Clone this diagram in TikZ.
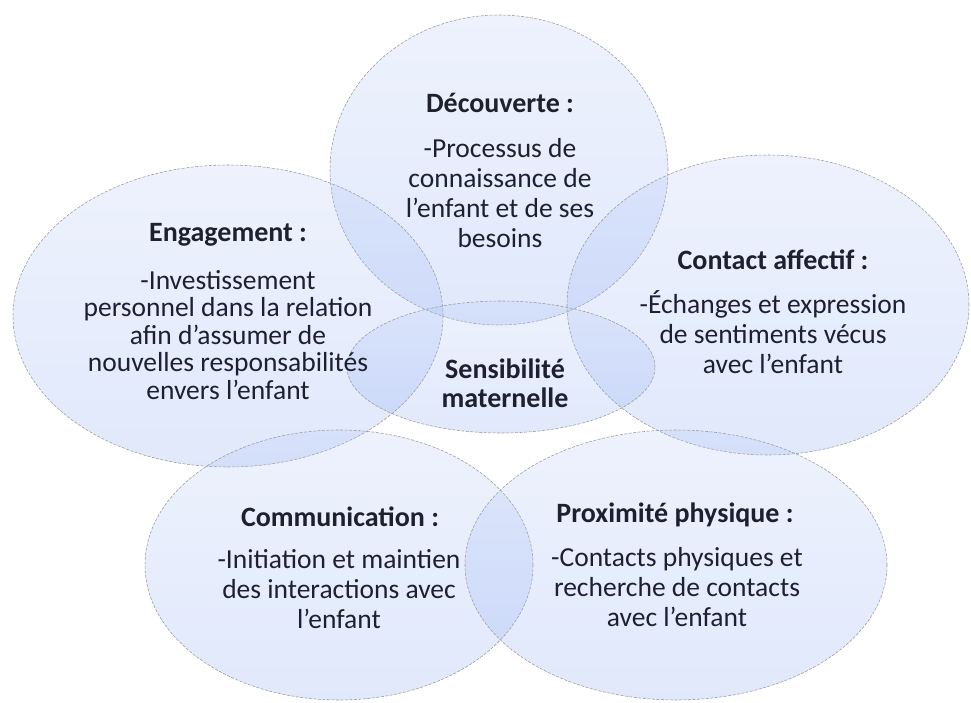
\documentclass[tikz,border=0pt]{standalone}
\usepackage{fontspec}
\setmainfont{Carlito}
\usetikzlibrary{shapes.geometric}
\definecolor{bubtop}{RGB}{175,195,245}
\definecolor{bubbot}{RGB}{115,152,238}
\definecolor{ink}{RGB}{30,32,45}
\begin{document}
\begin{tikzpicture}[x=1pt,y=-1pt,
  bubble/.style={ellipse, inner sep=0pt, draw=black!40, line width=0.55pt,
    dash pattern=on 3pt off 1.5pt, top color=bubtop, bottom color=bubbot,
    fill opacity=0.22},
  title/.style={font=\bfseries\fontsize{28}{30}\selectfont, text=ink, align=center, inner sep=0pt},
  body/.style={font=\fontsize{27.5}{30}\selectfont, text=ink, align=center, inner sep=0pt},
  tightbody/.style={body, font=\fontsize{27.5}{27.5}\selectfont}]
\useasboundingbox (0,0) rectangle (971,703);

% the six overlapping ellipses
\node[bubble, minimum width=338pt, minimum height=310pt] (dec) at (499,170) {};
\node[bubble, minimum width=430pt, minimum height=302pt] (eng) at (228,316) {};
\node[bubble, minimum width=402pt, minimum height=300pt] (aff) at (768,305) {};
\node[bubble, minimum width=388pt, minimum height=270pt] (com) at (339,565) {};
\node[bubble, minimum width=422pt, minimum height=270pt] (pro) at (676,565) {};
\node[bubble, minimum width=308pt, minimum height=132pt] (sen) at (501,367) {};

% labels
\node[title] (decT) at (500,103) {Découverte :};
\node[body] (decB) at (500,193) {-Processus de\\connaissance de\\l’enfant et de ses\\besoins};

\node[title] (engT) at (228,235) {Engagement :};
\node[tightbody] (engB) at (228,335) {-Investissement\\personnel dans la relation\\afin d’assumer de\\nouvelles responsabilités\\envers l’enfant};

\node[title] (affT) at (773,260) {Contact affectif :};
\node[body] (affB) at (773,332) {-Échanges et expression\\de sentiments vécus\\avec l’enfant};

\node[title] (comT) at (340,517) {Communication :};
\node[body] (comB) at (339,589) {-Initiation et maintien\\des interactions avec\\l’enfant};

\node[title] (proT) at (675,515) {Proximité physique :};
\node[body] (proB) at (677,587) {-Contacts physiques et\\recherche de contacts\\avec l’enfant};

\node[title, font=\bfseries\fontsize{28}{29}\selectfont] (senT) at (505,383) {Sensibilité\\maternelle};
\end{tikzpicture}
\end{document}
